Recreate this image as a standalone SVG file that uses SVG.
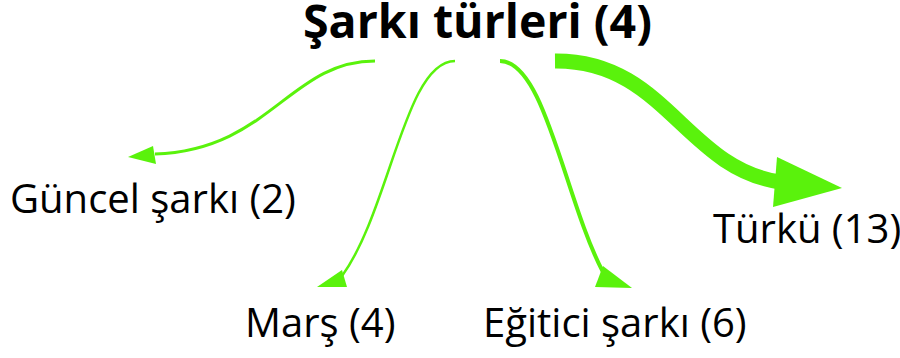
<svg xmlns="http://www.w3.org/2000/svg" width="900" height="358" viewBox="0 0 900 358">
<style>
.t{font-family:"Open Sans","Noto Sans","DejaVu Sans",sans-serif;fill:#000}
.title{font-size:46.5px;font-weight:bold}
.lbl{font-size:40px}
.c{fill:none;stroke:#5af20c;stroke-linecap:butt}
.h{fill:#5af20c;stroke:none}
</style>
<rect width="900" height="358" fill="#fff"/>
<g id="connectors">
<path class="c" d="M375 61 C290 61 270 150 155 154" stroke-width="3"/>
<polygon class="h" points="128,157 153,146 156,164"/>
<path class="c" d="M455 61 C405 61 390 210 342 276" stroke-width="2.5"/>
<polygon class="h" points="317,287 342,270 347,287"/>
<path class="c" d="M500 61 C545 61 565 200 603 272" stroke-width="4"/>
<polygon class="h" points="595,287 603,266 632,288"/>
<path class="c" d="M555 61 C665 60 685 168 780 182" stroke-width="15"/>
<polygon class="h" points="777,157 773,207 842,188"/>
</g>
<g id="root"><text class="t title" x="303" y="38">Şarkı türleri (4)</text></g>
<g id="guncel"><text class="t lbl" x="10" y="213">Güncel şarkı (2)</text></g>
<g id="mars"><text class="t lbl" x="245" y="337" font-size="39">Marş (4)</text></g>
<g id="egitici"><text class="t lbl" x="483" y="337" font-size="40.5">Eğitici şarkı (6)</text></g>
<g id="turku"><text class="t lbl" x="713" y="243" font-size="38.5">Türkü (13)</text></g>
</svg>
